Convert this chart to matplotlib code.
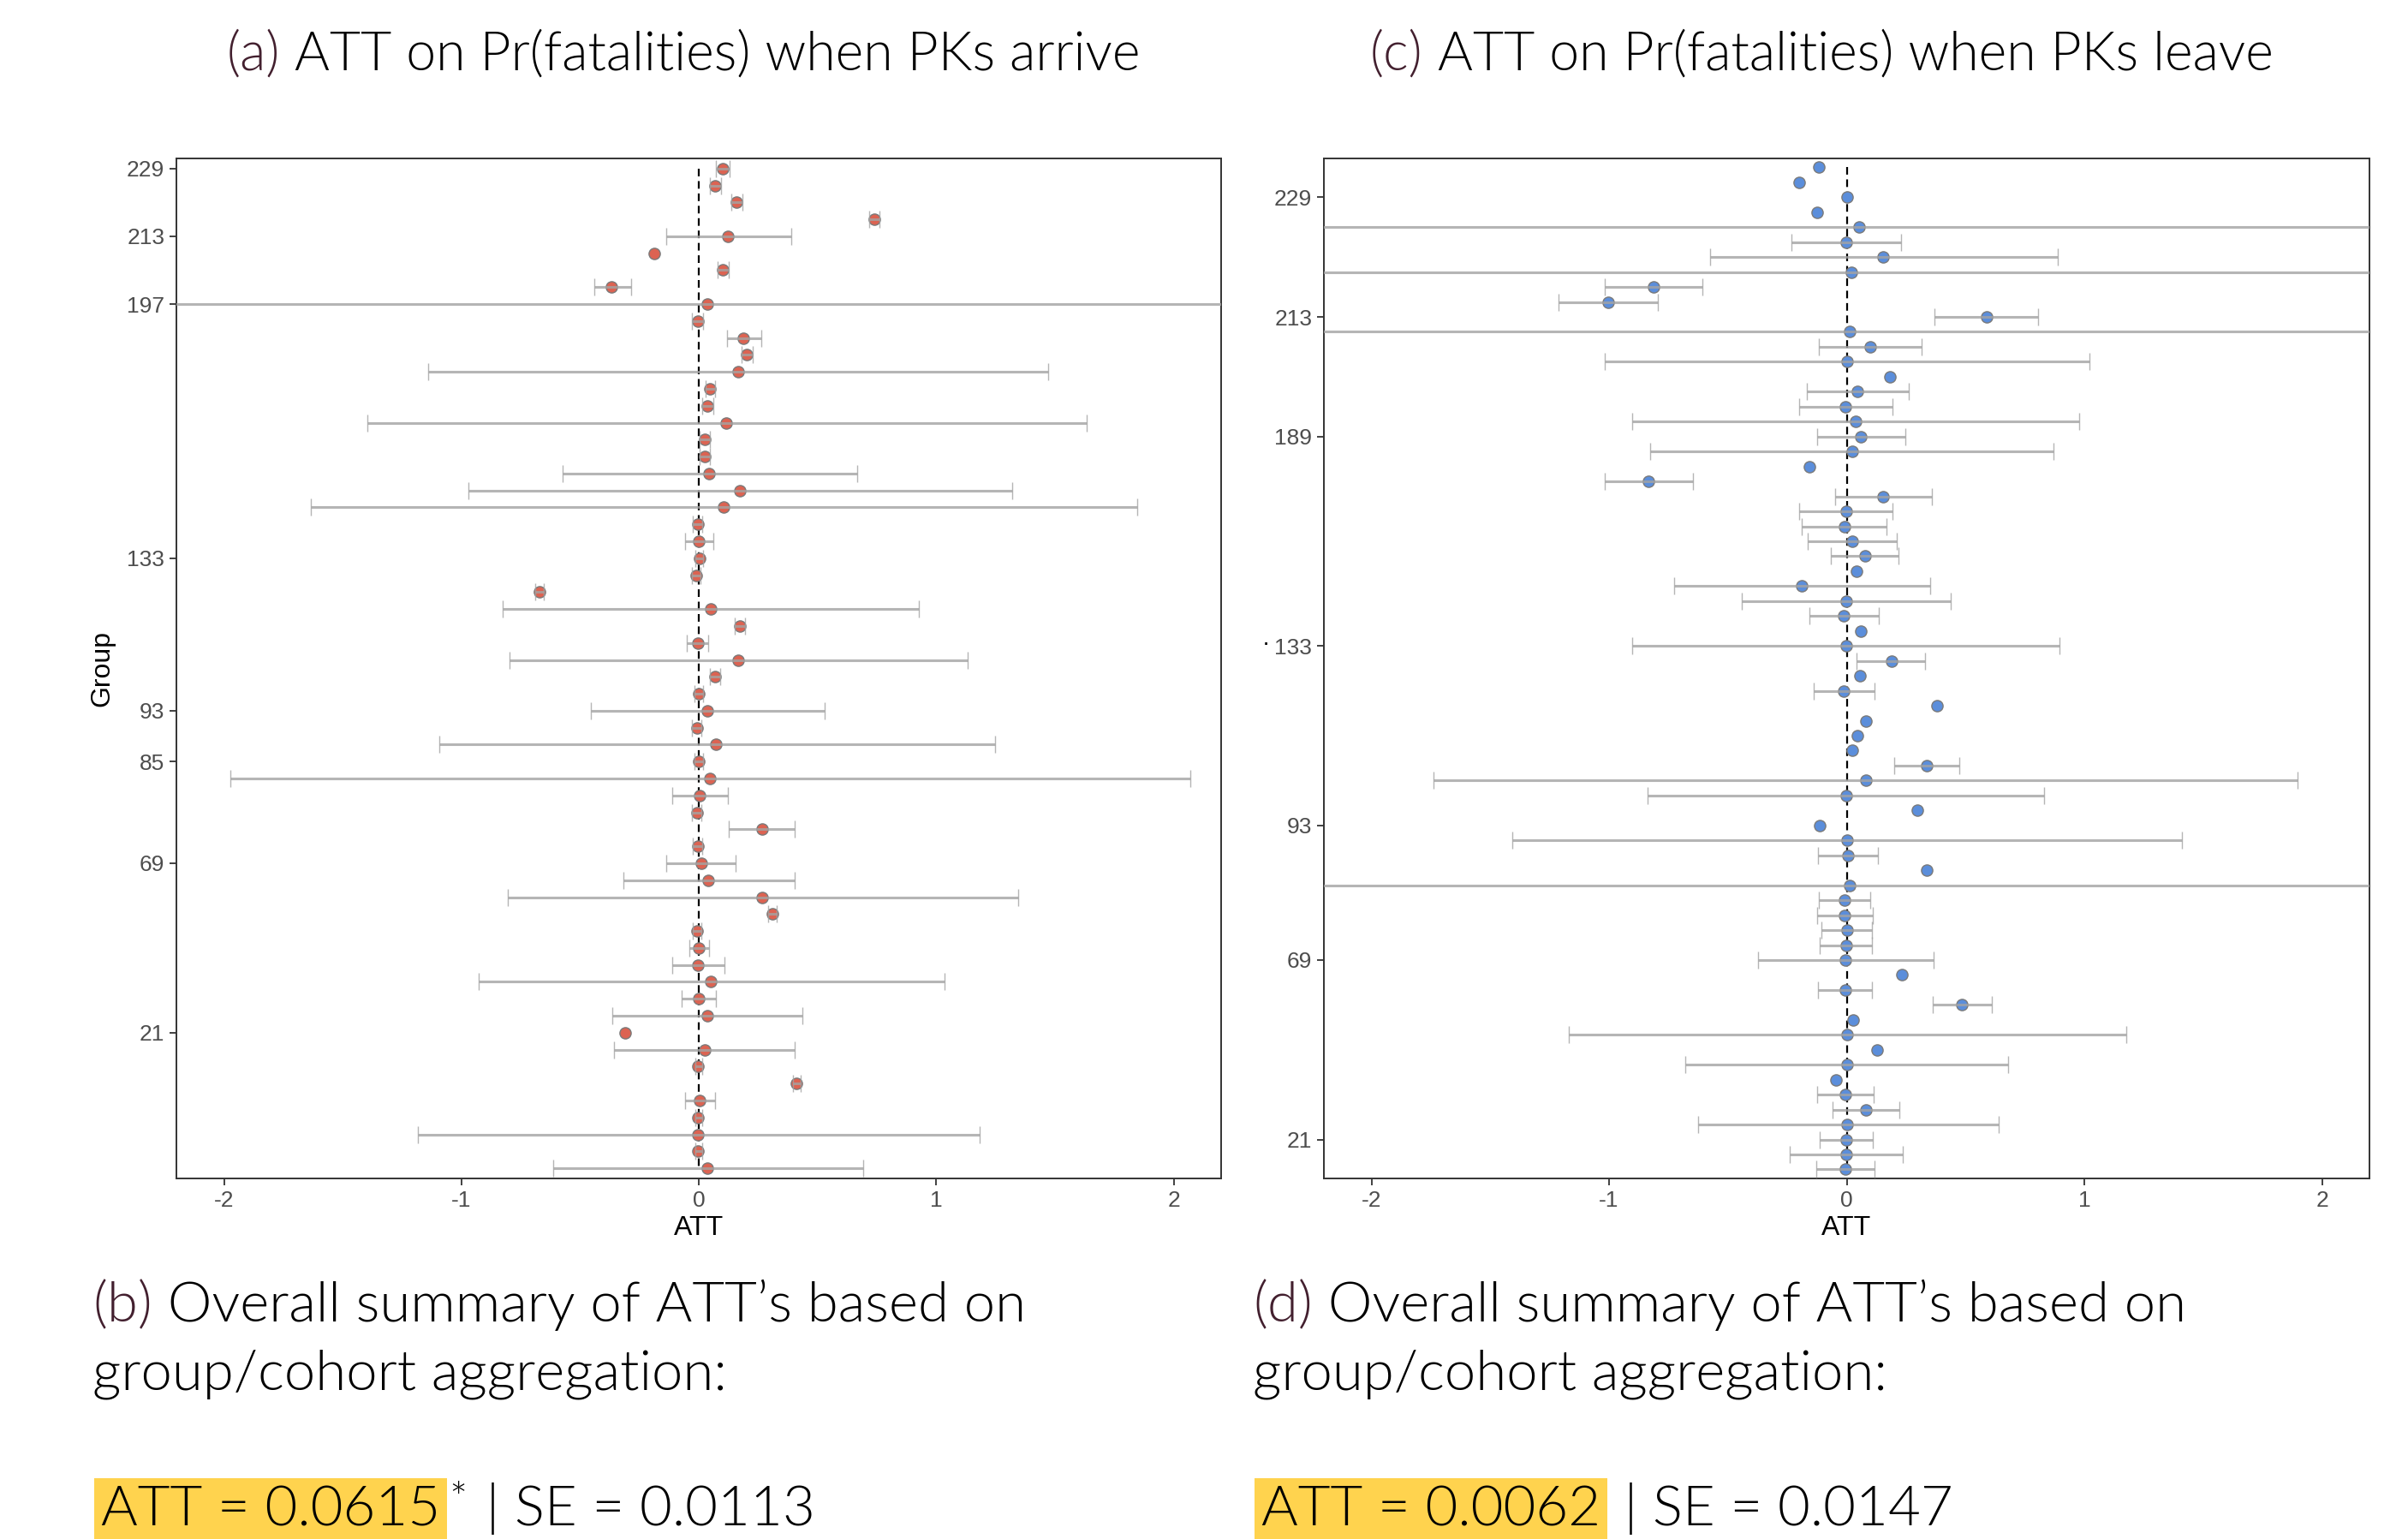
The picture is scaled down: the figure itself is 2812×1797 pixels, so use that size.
import numpy as np
import matplotlib
matplotlib.use("Agg")
import matplotlib.pyplot as plt
from matplotlib import font_manager

# ---- data: panel (a), PKs arrive (rows top -> bottom) ----
att_arrive = [0.099, 0.068, 0.157, 0.738, 0.123, -0.188, 0.099, -0.367, 0.034, -0.006,
              0.188, 0.200, 0.164, 0.046, 0.037, 0.114, 0.025, 0.025, 0.043, 0.173,
              0.105, -0.006, 0.000, 0.003, -0.012, -0.673, 0.049, 0.173, -0.006, 0.167,
              0.068, 0.000, 0.037, -0.009, 0.071, 0.000, 0.046, 0.003, -0.009, 0.265,
              -0.006, 0.009, 0.040, 0.265, 0.309, -0.009, 0.000, -0.003, 0.049, 0.000,
              0.037, -0.309, 0.025, -0.003, 0.410, 0.003, -0.003, -0.006, -0.003, 0.037]
lo_arrive = [0.071, 0.046, 0.136, 0.716, -0.139, np.nan, 0.077, -0.441, -4.5, -0.028,
             0.120, 0.179, -1.142, 0.028, 0.015, -1.395, 0.003, 0.003, -0.574, -0.972,
             -1.633, -0.025, -0.059, -0.015, -0.031, -0.691, -0.827, 0.151, -0.052, -0.796,
             0.046, -0.019, -0.454, -0.028, -1.093, -0.019, -1.975, -0.114, -0.028, 0.127,
             -0.025, -0.136, -0.318, -0.806, 0.290, -0.025, -0.040, -0.111, -0.929, -0.071,
             -0.364, np.nan, -0.358, -0.015, 0.395, -0.059, -0.015, -1.182, -0.015, -0.614]
hi_arrive = [0.130, 0.093, 0.185, 0.762, 0.389, np.nan, 0.127, -0.287, 4.5, 0.019,
             0.262, 0.228, 1.472, 0.068, 0.059, 1.633, 0.046, 0.046, 0.667, 1.318,
             1.846, 0.015, 0.059, 0.019, 0.006, -0.654, 0.926, 0.194, 0.040, 1.130,
             0.090, 0.019, 0.531, 0.009, 1.247, 0.019, 2.071, 0.123, 0.009, 0.404,
             0.012, 0.154, 0.404, 1.343, 0.327, 0.009, 0.043, 0.108, 1.034, 0.071,
             0.435, np.nan, 0.404, 0.012, 0.429, 0.068, 0.012, 1.182, 0.012, 0.691]
tick_rows_arrive = [0, 4, 8, 23, 32, 35, 41, 51]
tick_labels_arrive = ["229", "213", "197", "133", "93", "85", "69", "21"]

# ---- data: panel (c), PKs leave ----
att_leave = [-0.117, -0.200, 0.000, -0.123, 0.052, -0.003, 0.154, 0.018, -0.814, -1.005,
             0.589, 0.012, 0.099, 0.000, 0.182, 0.046, -0.006, 0.037, 0.059, 0.022,
             -0.157, -0.835, 0.154, -0.003, -0.009, 0.022, 0.077, 0.043, -0.188, -0.003,
             -0.012, 0.059, -0.003, 0.188, 0.055, -0.012, 0.379, 0.080, 0.046, 0.022,
             0.336, 0.080, -0.003, 0.296, -0.114, 0.000, 0.006, 0.336, 0.012, -0.009,
             -0.009, 0.000, -0.003, -0.006, 0.234, -0.006, 0.484, 0.028, 0.003, 0.129,
             0.000, -0.046, -0.006, 0.080, 0.003, -0.003, -0.003, -0.006]
lo_leave = [np.nan, np.nan, np.nan, np.nan, -4.5, -0.234, -0.576, -4.5, -1.017, -1.214,
            0.370, -4.5, -0.117, -1.017, np.nan, -0.166, -0.200, -0.903, -0.126, -0.826,
            np.nan, -1.017, -0.049, -0.200, -0.188, -0.163, -0.065, np.nan, -0.727, -0.441,
            -0.157, np.nan, -0.903, 0.043, np.nan, -0.139, np.nan, np.nan, np.nan, np.nan,
            0.200, -1.738, -0.838, np.nan, np.nan, -1.408, -0.120, np.nan, -4.5, -0.117,
            -0.126, -0.105, -0.114, -0.373, np.nan, -0.120, 0.361, np.nan, -1.171, np.nan,
            -0.678, np.nan, -0.123, -0.059, -0.626, -0.114, -0.240, -0.129]
hi_leave = [np.nan, np.nan, np.nan, np.nan, 4.5, 0.228, 0.888, 4.5, -0.607, -0.795,
            0.807, 4.5, 0.317, 1.023, np.nan, 0.262, 0.191, 0.977, 0.247, 0.869,
            np.nan, -0.647, 0.357, 0.191, 0.169, 0.210, 0.219, np.nan, 0.351, 0.438,
            0.136, np.nan, 0.894, 0.330, np.nan, 0.117, np.nan, np.nan, np.nan, np.nan,
            0.475, 1.898, 0.832, np.nan, np.nan, 1.411, 0.133, np.nan, 4.5, 0.099,
            0.111, 0.105, 0.105, 0.364, np.nan, 0.105, 0.610, np.nan, 1.177, np.nan,
            0.678, np.nan, 0.114, 0.222, 0.638, 0.111, 0.237, 0.117]
tick_rows_leave = [2, 10, 18, 32, 44, 53, 65]
tick_labels_leave = ["229", "213", "189", "133", "93", "69", "21"]

W, H = 2812, 1797
fig = plt.figure(figsize=(W / 100, H / 100), dpi=100)

TICK_FONT = ["Liberation Sans", "DejaVu Sans"]

# pick Lato Light by file if it is there, otherwise regular Lato
lato = [f for f in font_manager.fontManager.ttflist
        if f.name == "Lato" and f.style == "normal"]
lato.sort(key=lambda f: abs((f.weight if isinstance(f.weight, int) else 400) - 300))
if lato:
    def txt_fp(size):
        return font_manager.FontProperties(fname=lato[0].fname, size=size)
else:
    def txt_fp(size):
        return font_manager.FontProperties(family="DejaVu Sans", size=size)


def panel(rect, att, lo, hi, tick_rows, tick_labels, color, ylabel=None):
    ax = fig.add_axes(rect)
    n = len(att)
    rows = np.arange(n)
    att = np.array(att)
    lo = np.array(lo)
    hi = np.array(hi)
    ax.plot([0, 0], [0, n - 1], color="black", lw=1.6, ls=(0, (4, 2.5)), zorder=1)
    ax.plot(att, rows, "o", ms=9.5, mfc=color, mec="#7a7a7a", mew=1.0, zorder=2)
    ok = ~np.isnan(lo)
    ax.errorbar(att[ok], rows[ok], xerr=[att[ok] - lo[ok], hi[ok] - att[ok]],
                fmt="none", ecolor="#a3a3a3", elinewidth=2.2, capsize=7.5,
                capthick=1.0, alpha=0.8, zorder=3)
    ax.set_xlim(-2.2, 2.2)
    ax.set_ylim(n - 1 + 0.6, -0.6)
    ax.set_xticks([-2, -1, 0, 1, 2])
    ax.set_xticklabels(["-2", "-1", "0", "1", "2"])
    ax.set_yticks(tick_rows)
    ax.set_yticklabels(tick_labels)
    ax.tick_params(length=6, width=1.3, color="#333333", labelsize=19,
                   labelcolor="#4d4d4d", pad=4)
    for lab in ax.get_xticklabels() + ax.get_yticklabels():
        lab.set_family(TICK_FONT)
    for sp in ax.spines.values():
        sp.set_color("#333333")
        sp.set_linewidth(1.4)
    ax.set_xlabel("ATT", fontsize=23, family=TICK_FONT, labelpad=4)
    if ylabel:
        ax.set_ylabel(ylabel, fontsize=23, family=TICK_FONT, labelpad=10)
    return ax


ax1 = panel([0.0733, 0.2343, 0.4339, 0.6628], att_arrive, lo_arrive, hi_arrive,
            tick_rows_arrive, tick_labels_arrive, "#dc6352", ylabel="Group")
ax2 = panel([0.5498, 0.2343, 0.4342, 0.6628], att_leave, lo_leave, hi_leave,
            tick_rows_leave, tick_labels_leave, "#5b8edb")

# odd little dot next to the 133 label on the right panel
fig.text(1478 / W, 1 - 752 / H, "\u00b7", fontsize=20, ha="center", va="center",
         family=TICK_FONT, color="black")

renderer = fig.canvas.get_renderer()
PLUM = "#43202f"


def multitext(x, y, parts, center=False, size=47):
    texts = []
    for s, col in parts:
        t = fig.text(0, y, s, fontproperties=txt_fp(size), color=col,
                     va="baseline", ha="left")
        texts.append(t)
    widths = [t.get_window_extent(renderer).width for t in texts]
    start = x * W - (sum(widths) / 2 if center else 0)
    for t, w in zip(texts, widths):
        t.set_x(start / W)
        start += w
    return texts


# titles
multitext(0.2838, 1 - 82 / H, [("(a)", PLUM),
                               (" ATT on Pr(fatalities) when PKs arrive", "black")],
          center=True, size=45)
multitext(0.7565, 1 - 82 / H, [("(c)", PLUM),
                               (" ATT on Pr(fatalities) when PKs leave", "black")],
          center=True, size=45)

# summaries
HL = dict(boxstyle="square,pad=0.12", facecolor="#ffd34e", edgecolor="none")
for x0, tag, att_txt, star, se_txt in [(108 / W, "(b)", "ATT = 0.0615", "*", "SE = 0.0113"),
                                       (1463 / W, "(d)", "ATT = 0.0062", "", "SE = 0.0147")]:
    multitext(x0, 1 - 1543 / H, [(tag, PLUM),
                                 (" Overall summary of ATT\u2019s based on", "black")])
    multitext(x0, 1 - 1622 / H, [("group/cohort aggregation:", "black")])
    t = fig.text(x0 + 10 / W, 1 - 1781 / H, att_txt, fontproperties=txt_fp(47),
                 va="baseline", ha="left", color="black", bbox=HL)
    ext = t.get_window_extent(renderer)
    xx = ext.x1 + 10
    if star:
        s = fig.text(xx / W, 1 - 1766 / H, star, fontproperties=txt_fp(36),
                     va="baseline", ha="left", color="black")
        xx = s.get_window_extent(renderer).x1 + 4
    fig.text(xx / W, 1 - 1781 / H, " | " + se_txt, fontproperties=txt_fp(47),
             va="baseline", ha="left", color="black")

fig.savefig("out.png", dpi=100, facecolor="white")
